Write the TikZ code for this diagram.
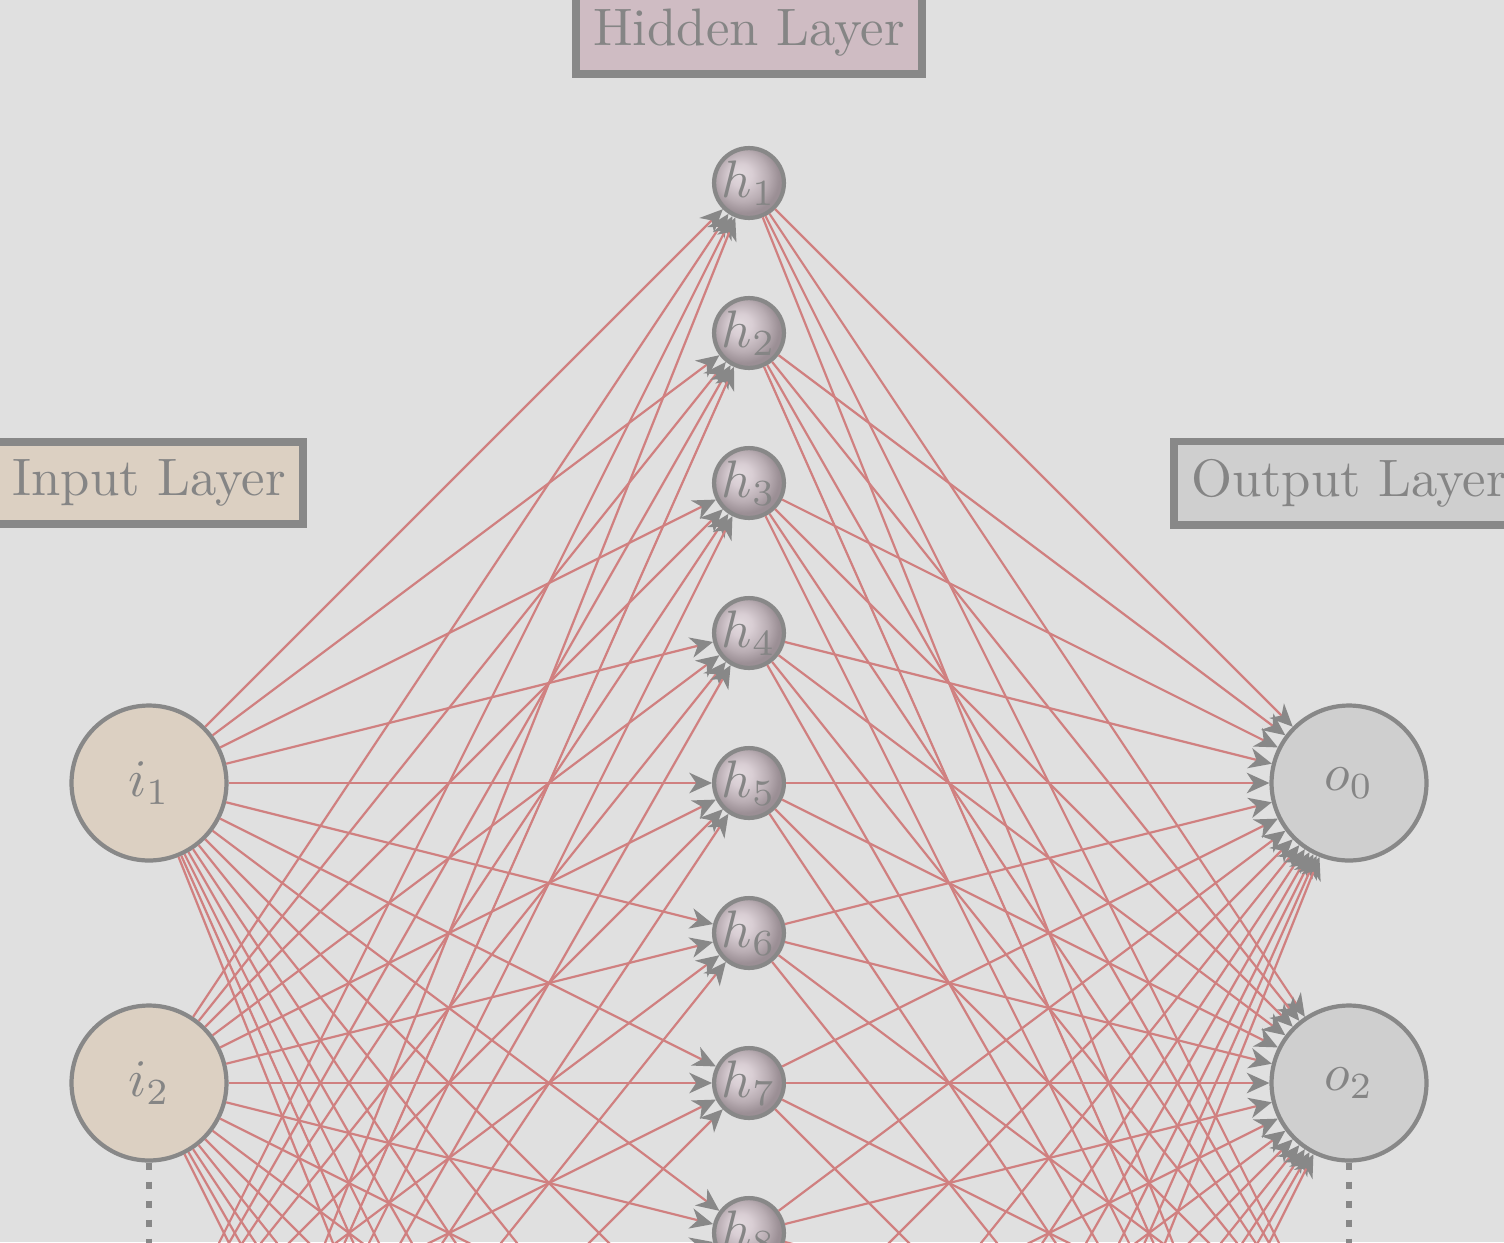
\documentclass[tikz,border=0pt]{standalone}
\usetikzlibrary{arrows.meta}
\definecolor{bgc}{HTML}{E0E0E0}
\definecolor{bordc}{HTML}{888888}
\definecolor{txtc}{HTML}{858585}
\definecolor{inc}{HTML}{DCD0C2}
\definecolor{hidc}{HTML}{CFBCC3}
\definecolor{outc}{HTML}{CFCFCF}
\definecolor{edgec}{HTML}{D08080}
\definecolor{ballA}{HTML}{E2DADE}
\definecolor{ballB}{HTML}{D9CED4}
\definecolor{ballC}{HTML}{B9ADB3}
\definecolor{ballD}{HTML}{9B8F95}
\pgfdeclareradialshading{hball}{\pgfpoint{-7bp}{7bp}}{color(0bp)=(ballA); color(8bp)=(ballB); color(18bp)=(ballC); color(25bp)=(ballD); color(50bp)=(ballD)}
\tikzset{
  bignode/.style={circle, draw=bordc, thick, minimum size=1.033cm, inner sep=0pt, text=txtc},
  innode/.style={bignode, fill=inc},
  outnode/.style={bignode, fill=outc},
  hidnode/.style={circle, draw=bordc, thick, minimum size=0.46cm, inner sep=0pt, text=txtc, shading=hball},
  layerlabel/.style={draw=bordc, line width=1.5pt, text=txtc, inner sep=3.33pt},
  edge/.style={draw=edgec, line width=0.42pt, -{Stealth[length=4.3pt, width=3.9pt, inset=1.3pt, color=bordc]}},
  dotline/.style={draw=bordc, line width=1.25pt, dash pattern=on 1.4pt off 2.2pt}
}
\begin{document}
\begin{tikzpicture}
\clip (0.0067,0) rectangle (10.0333,-8.28);
\fill[bgc] (0.0067,0) rectangle (10.0333,-8.28);
% input nodes
\node[innode] (i1) at (1,-5.22) {$i_1$};
\node[innode] (i2) at (1,-7.22) {$i_2$};
\node[innode] (i3) at (1,-9.22) {};
\node[innode] (i4) at (1,-11.22) {};
% output nodes
\node[outnode] (o1) at (9,-5.22) {$o_0$};
\node[outnode] (o2) at (9,-7.22) {$o_2$};
\node[outnode] (o3) at (9,-9.22) {};
\node[outnode] (o4) at (9,-11.22) {};
% hidden nodes
\foreach \k in {1,...,8} {
  \node[hidnode] (h\k) at (5,{-1.22-(\k-1)}) {$h_{\k}$};
}
\foreach \k in {9,...,15} {
  \node[hidnode] (h\k) at (5,{-1.22-(\k-1)}) {};
}
% connections
\foreach \s in {1,...,4} {
  \foreach \t in {1,...,15} {
    \draw[edge] (i\s) -- (h\t);
  }
}
\foreach \s in {1,...,15} {
  \foreach \t in {1,...,4} {
    \draw[edge] (h\s) -- (o\t);
  }
}
% dotted continuation
\draw[dotline] (i2) -- (i3);
\draw[dotline] (o2) -- (o3);
% layer labels
\node[layerlabel, fill=inc] (lin) at (1,-3.22) {Input Layer};
\node[layerlabel, fill=hidc] (lhid) at (5,-0.22) {Hidden Layer};
\node[layerlabel, fill=outc] (lout) at (9,-3.22) {Output Layer};
\end{tikzpicture}
\end{document}
